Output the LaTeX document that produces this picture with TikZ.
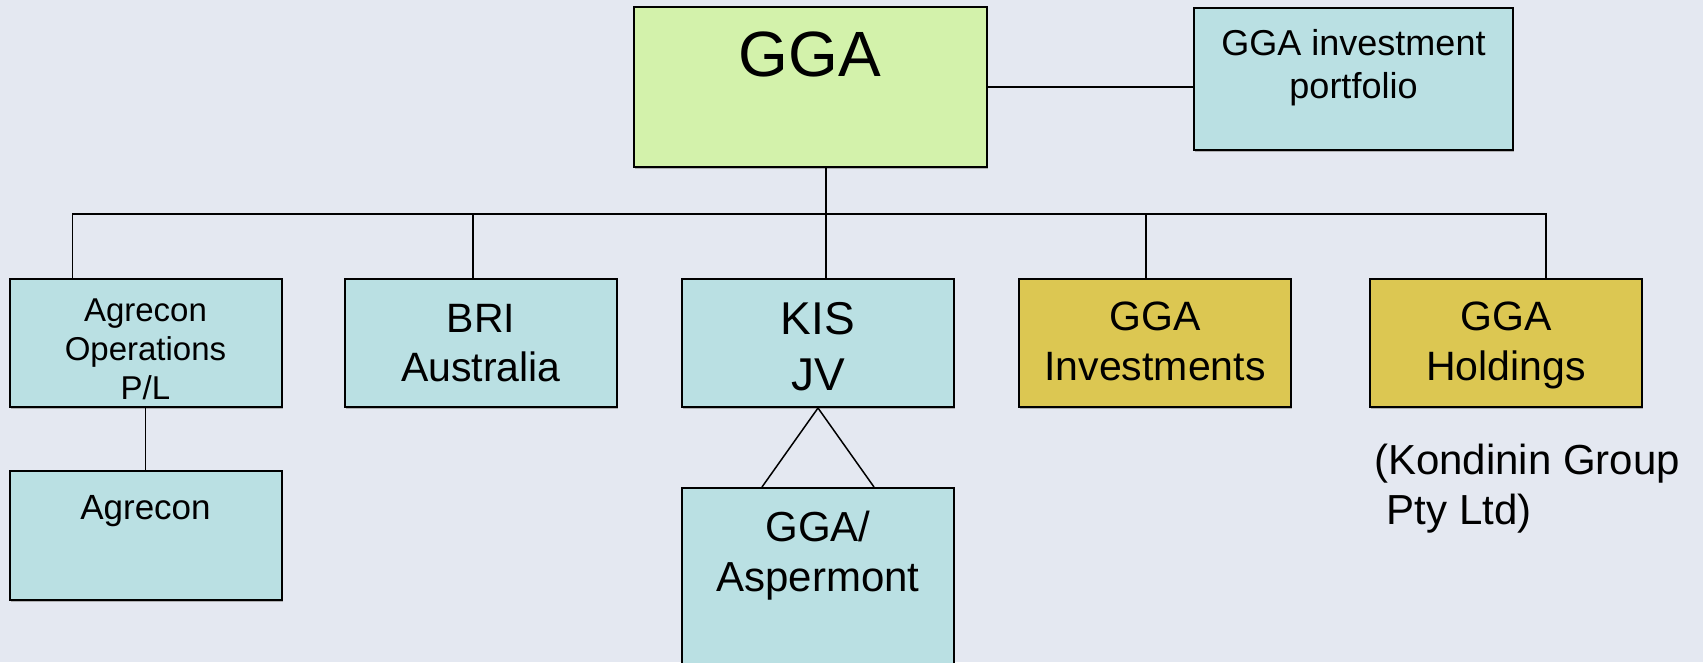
\documentclass[tikz,border=0pt]{standalone}
\usepackage{fontspec}
\setmainfont{Liberation Sans}
\usetikzlibrary{shadows}
\definecolor{bgblue}{RGB}{228,232,241}
\definecolor{boxcyan}{RGB}{186,224,227}
\definecolor{boxgreen}{RGB}{211,242,171}
\definecolor{boxgold}{RGB}{220,199,82}

\begin{document}
\begin{tikzpicture}[x=1pt, y=-1pt,
    box/.style={draw=black, line width=2pt, inner sep=0pt,
      minimum width=272pt, minimum height=128pt,
      drop shadow={shadow xshift=1pt, shadow yshift=-2pt, fill=black!40, opacity=.7}},
    txt/.style={inner sep=0pt, anchor=north, align=center},
    link/.style={black, line width=1.5pt}]
        \fill[bgblue] (0,0) rectangle (1703,662);
        \useasboundingbox (0,0) rectangle (1703,662);
        % boxes
        \node[box, fill=boxgreen, minimum width=353pt, minimum height=160pt] (gga) at (810,87) {};
        \node[box, fill=boxcyan, minimum width=319pt, minimum height=142pt] (inv) at (1353.5,79) {};
        \node[box, fill=boxcyan] (ops) at (145.5,343) {};
        \node[box, fill=boxcyan] (bri) at (481,343) {};
        \node[box, fill=boxcyan] (kis) at (818,343) {};
        \node[box, fill=boxgold] (ginv) at (1155,343) {};
        \node[box, fill=boxgold] (hold) at (1506,343) {};
        \node[box, fill=boxcyan, minimum height=129pt] (agr) at (145.5,535.5) {};
        \node[box, fill=boxcyan, minimum height=200pt] (asp) at (818,588) {};
        % connectors
        \draw[link] (gga.east) -- (gga.east -| inv.west);
        \draw[link] ([xshift=16pt]gga.south) -- ([xshift=8pt]kis.north);
        \draw[link] ([xshift=64pt]ops.north west) -- ++(0,-64) -| ([xshift=40pt]hold.north);
        \draw[link] ([xshift=129pt]bri.north west) -- ++(0,-64);
        \draw[link] ([xshift=-9pt]ginv.north) -- ++(0,-64);
        \draw[link] (ops.south) -- (agr.north);
        \draw[link] ([xshift=-56pt]asp.north) -- (kis.south) -- ([xshift=56pt]asp.north);
        % texts
        \node[txt, font=\fontsize{64}{77}\selectfont] (ggaT) at (810,32) {GGA};
        \node[txt, font=\fontsize{36}{43}\selectfont] (invT) at (1353.5,29) {GGA investment\\portfolio};
        \node[txt, font=\fontsize{33}{39}\selectfont] (opsT) at (145.5,299) {Agrecon\\Operations\\P/L};
        \node[txt, font=\fontsize{41}{49}\selectfont] (briT) at (481,304) {BRI\\Australia};
        \node[txt, font=\fontsize{46}{56}\selectfont] (kisT) at (818,302) {KIS\\JV};
        \node[txt, font=\fontsize{41}{50}\selectfont] (ginvT) at (1155,302) {GGA\\Investments};
        \node[txt, font=\fontsize{41}{50}\selectfont] (holdT) at (1506,302) {GGA\\Holdings};
        \node[txt, font=\fontsize{35}{42}\selectfont] (agrT) at (145.5,495) {Agrecon};
        \node[txt, font=\fontsize{42}{50}\selectfont] (aspT) at (818,511) {GGA/\\Aspermont};
        \node[txt, anchor=north west, align=left, font=\fontsize{42}{50}\selectfont] (kondT) at (1374,444) {(Kondinin Group\\\hspace*{.3em}Pty Ltd)};
\end{tikzpicture}
\end{document}
